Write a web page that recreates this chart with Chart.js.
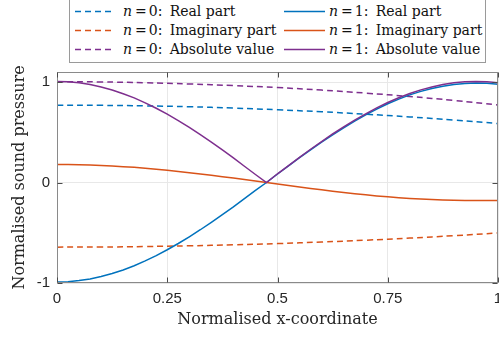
<!DOCTYPE html>
<html>
<head>
<meta charset="utf-8">
<script src="https://cdn.jsdelivr.net/npm/chart.js@4"></script>
<style>
  html, body { margin: 0; padding: 0; overflow: hidden; background: #fff; width: 499px; height: 337px; }
  #wrap { position: absolute; left: 0; top: 0; width: 512px; height: 337px; }
  #legend { position: absolute; left: 69px; top: -2px; width: 415px; height: 63px;
            border: 1px solid #9a9a9a; background: #fff; font-family: 'DejaVu Serif', serif;
            font-size: 14px; color: #111; }
  .item { position: absolute; height: 19px; line-height: 19px; white-space: nowrap; }
  .item svg { position: absolute; left: 0; top: 0; }
  .item span.t { position: absolute; top: 0; }
  .eq { margin: 0 2px 0 3px; }
</style>
</head>
<body>
<div id="wrap"><canvas id="c"></canvas></div>
<div id="legend"></div>
<script>
// ---- data ----
const xCoarse = [0, 0.1, 0.2, 0.3, 0.4, 0.5, 0.6, 0.7, 0.8, 0.9, 1.0];
const n0Real = [0.770, 0.768, 0.763, 0.754, 0.741, 0.724, 0.704, 0.680, 0.653, 0.622, 0.587];
const n0Imag = [-0.643, -0.642, -0.637, -0.630, -0.620, -0.608, -0.592, -0.574, -0.553, -0.529, -0.502];
const n0Abs  = [1.003, 1.001, 0.993, 0.981, 0.965, 0.945, 0.920, 0.890, 0.856, 0.817, 0.772];

const xFine = [0, 0.025, 0.05, 0.075, 0.1, 0.125, 0.15, 0.175, 0.2, 0.225, 0.25, 0.275, 0.3, 0.325,
  0.35, 0.375, 0.4, 0.425, 0.45, 0.475, 0.5, 0.525, 0.55, 0.575, 0.6, 0.625, 0.65, 0.675, 0.7,
  0.725, 0.75, 0.775, 0.8, 0.825, 0.85, 0.875, 0.9, 0.925, 0.95, 0.975, 1.0];
const n1Real = [-0.990, -0.987, -0.976, -0.960, -0.936, -0.906, -0.870, -0.828, -0.780, -0.727,
  -0.669, -0.607, -0.540, -0.470, -0.396, -0.320, -0.242, -0.160, -0.079, 0.000, 0.085, 0.166,
  0.247, 0.325, 0.402, 0.475, 0.545, 0.611, 0.673, 0.731, 0.784, 0.830, 0.872, 0.907, 0.936,
  0.959, 0.976, 0.986, 0.990, 0.987, 0.977];
const n1Imag = [0.180, 0.179, 0.178, 0.174, 0.170, 0.165, 0.158, 0.151, 0.142, 0.132, 0.122,
  0.110, 0.098, 0.085, 0.072, 0.058, 0.044, 0.029, 0.014, 0.000, -0.015, -0.030, -0.045, -0.059,
  -0.073, -0.086, -0.099, -0.111, -0.122, -0.133, -0.142, -0.151, -0.158, -0.165, -0.170, -0.174,
  -0.177, -0.179, -0.180, -0.180, -0.178];
const n1Abs = [1.006, 1.003, 0.992, 0.975, 0.951, 0.921, 0.884, 0.842, 0.793, 0.739, 0.680,
  0.617, 0.549, 0.477, 0.403, 0.325, 0.246, 0.162, 0.080, 0.000, 0.087, 0.169, 0.251, 0.331,
  0.408, 0.483, 0.553, 0.621, 0.684, 0.743, 0.796, 0.844, 0.886, 0.922, 0.951, 0.975, 0.992,
  1.002, 1.006, 1.003, 0.992];

const xTicks = [0, 0.25, 0.5, 0.75, 1];
const yTicks = [-1, 0, 1];
const seriesLabels = ['n = 0: Real part', 'n = 0: Imaginary part', 'n = 0: Absolute value',
                      'n = 1: Real part', 'n = 1: Imaginary part', 'n = 1: Absolute value'];
const xTitle = 'Normalised x-coordinate';
const yTitle = 'Normalised sound pressure';

// ---- styles ----
const BLUE = '#0072BD', ORANGE = '#D95319', PURPLE = '#7E2F8E';
const colors = [BLUE, ORANGE, PURPLE, BLUE, ORANGE, PURPLE];
const dashed = [true, true, true, false, false, false];
const dash = [6, 4];

function pts(xs, ys) { return xs.map((x, i) => ({ x: x, y: ys[i] })); }
const allData = [
  pts(xCoarse, n0Real), pts(xCoarse, n0Imag), pts(xCoarse, n0Abs),
  pts(xFine, n1Real), pts(xFine, n1Imag), pts(xFine, n1Abs)
];

const datasets = allData.map((d, i) => ({
  label: seriesLabels[i],
  data: d,
  borderColor: colors[i],
  backgroundColor: colors[i],
  borderWidth: 1.5,
  borderDash: dashed[i] ? dash : [],
  pointRadius: 0,
  tension: dashed[i] ? 0.4 : 0,
  fill: false,
  order: 6 - i
}));

const AXIS = '#8a8a8a';
const boxPlugin = {
  id: 'box',
  afterDraw(chart) {
    const { ctx, chartArea: a, scales: { x, y } } = chart;
    ctx.save();
    ctx.strokeStyle = AXIS;
    ctx.lineWidth = 1;
    ctx.setLineDash([]);
    const L = Math.round(a.left) + 0.5, R = Math.round(a.right) - 0.5;
    const T = Math.round(a.top) + 0.5, B = Math.round(a.bottom) - 0.5;
    ctx.strokeRect(L, T, R - L, B - T);
    ctx.strokeStyle = '#4a4a4a';
    ctx.beginPath();
    const tl = 5;
    xTicks.forEach(v => {
      const px = Math.round(x.getPixelForValue(v)) + 0.5;
      ctx.moveTo(px, B); ctx.lineTo(px, B - tl);
      ctx.moveTo(px, T); ctx.lineTo(px, T + tl);
    });
    yTicks.forEach(v => {
      const py = Math.round(y.getPixelForValue(v)) + 0.5;
      ctx.moveTo(L, py); ctx.lineTo(L + tl, py);
      ctx.moveTo(R, py); ctx.lineTo(R - tl, py);
    });
    ctx.stroke();
    ctx.restore();
  }
};

const tickFont = { family: "'Liberation Sans', Arial, sans-serif", size: 15 };

new Chart(document.getElementById('c'), {
  type: 'line',
  data: { datasets },
  plugins: [boxPlugin],
  options: {
    responsive: true,
    maintainAspectRatio: false,
    animation: false,
    devicePixelRatio: 1,
    layout: { padding: { top: 72, left: 0, right: 14, bottom: 0 } },
    plugins: { legend: { display: false }, tooltip: { enabled: false } },
    scales: {
      x: {
        type: 'linear', min: 0, max: 1,
        afterBuildTicks: s => { s.ticks = xTicks.map(v => ({ value: v })); },
        afterFit: s => { s.height = 54; s.paddingRight = 0; s.paddingLeft = 0; },
        ticks: { font: tickFont, color: '#262626', padding: 7, maxRotation: 0,
                 callback: v => String(v) },
        grid: { color: '#e8e8e8', drawTicks: false },
        border: { display: false },
        title: { display: true, text: xTitle, color: '#262626',
                 font: { family: "'DejaVu Serif', serif", size: 16 }, padding: { top: 0, bottom: 8 } }
      },
      y: {
        type: 'linear', min: -1, max: 1.1,
        afterBuildTicks: s => { s.ticks = yTicks.map(v => ({ value: v })); },
        afterFit: s => { s.width = 57; s.paddingTop = 0; s.paddingBottom = 0; },
        ticks: { font: tickFont, color: '#262626', padding: 7, callback: v => String(v) },
        grid: { color: '#e8e8e8', drawTicks: false },
        border: { display: false },
        title: { display: true, text: yTitle, color: '#262626',
                 font: { family: "'DejaVu Serif', serif", size: 16 }, padding: { top: 10, bottom: 0 } }
      }
    }
  }
});

// ---- legend (HTML) ----
const legend = document.getElementById('legend');
const colX = [5, 214];      // sample left, relative to box
const textOff = [48, 45];   // text offset from sample left
const rowY = [3, 22, 41];
seriesLabels.forEach((lab, i) => {
  const col = i < 3 ? 0 : 1, row = i % 3;
  const it = document.createElement('div');
  it.className = 'item';
  it.style.left = colX[col] + 'px';
  it.style.top = rowY[row] + 'px';
  const w = col === 0 ? 38 : 41;
  it.innerHTML = '<svg width="' + w + '" height="19"><line x1="0" y1="9.5" x2="' + w + '" y2="9.5" stroke="' +
    colors[i] + '" stroke-width="1.5"' + (dashed[i] ? ' stroke-dasharray="6 4"' : '') + '/></svg>';
  const m = lab.match(/^n = (\d): (.*)$/);
  const t = document.createElement('span');
  t.className = 't';
  t.style.left = textOff[col] + 'px';
  t.innerHTML = '<i>n</i><span class="eq">=</span>' + m[1] + ':&thinsp; ' + m[2];
  it.appendChild(t);
  legend.appendChild(it);
});
</script>
</body>
</html>
